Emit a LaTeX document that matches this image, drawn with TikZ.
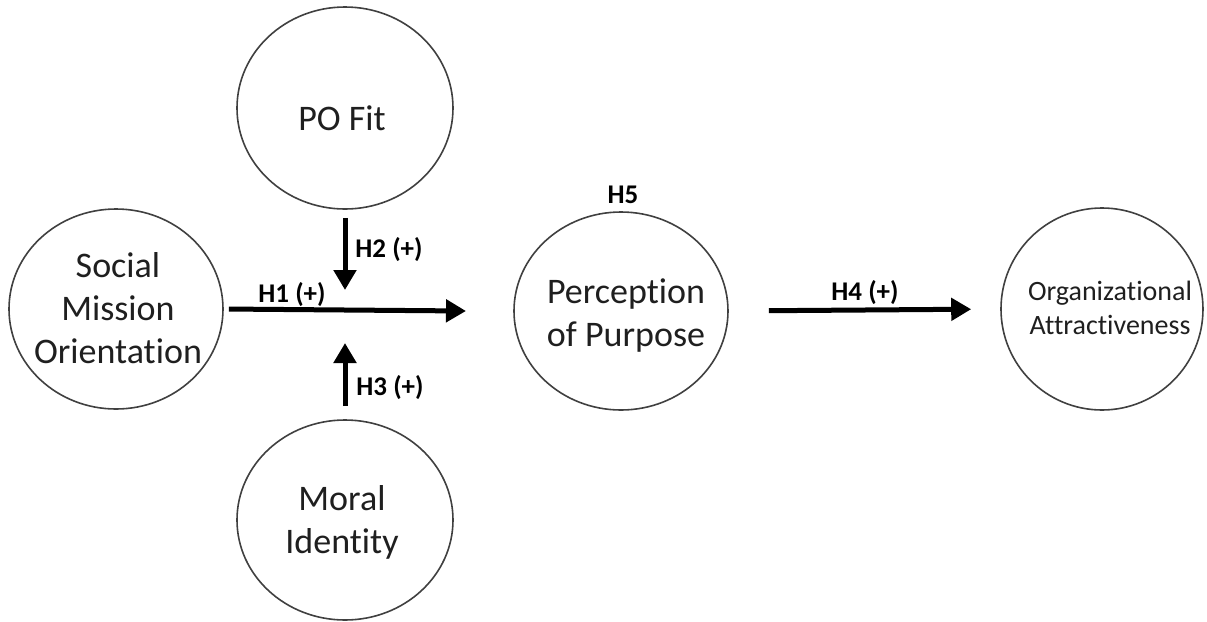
\documentclass[tikz,border=0pt]{standalone}
\usepackage{fontspec}
\setmainfont{Carlito}[Ligatures=NoCommon]
\usetikzlibrary{shapes.geometric,arrows.meta}
\begin{document}
\begin{tikzpicture}[x=0.5pt,y=-0.5pt,
  bubble/.style={draw=black!75, line width=0.8pt, ellipse, inner sep=0pt},
  concept/.style={align=center, inner sep=0pt, text=black!88,
    font=\fontsize{18}{21.5}\selectfont},
  smallconcept/.style={align=center, inner sep=0pt, text=black!88,
    font=\fontsize{14}{17}\selectfont},
  hyp/.style={font=\bfseries\fontsize{13.5}{16}\selectfont, anchor=base, inner sep=0pt},
  link/.style={line width=2.5pt, -{Triangle[length=10pt,width=11pt]}}
]
\useasboundingbox (0,0) rectangle (1207,622);

% constructs
\node[bubble, minimum width=108pt, minimum height=101pt] (pofit) at (345,108) {};
\node[bubble, minimum width=107pt, minimum height=100pt] (smo)   at (116,309) {};
\node[bubble, minimum width=108pt, minimum height=100pt] (moral) at (345,520) {};
\node[bubble, minimum width=107pt, minimum height=99pt]  (pop)   at (621,311) {};
\node[bubble, minimum width=101pt, minimum height=101pt] (oa)    at (1102,309) {};

\node[concept] (pofittext) at (342,118) {PO Fit};
\node[concept] (smotext)   at (118,308) {Social\\Mission\\Orientation};
\node[concept] (moraltext) at (342,522) {Moral\\Identity};
\node[concept] (poptext)   at (626,316) {Perception\\of Purpose};
\node[smallconcept] (oatext) at (1110,308) {Organizational\\Attractiveness};

% free ends of the paths that point at the main effect
\coordinate (h1end) at (466,311);
\coordinate (h2end) at (345,290);
\coordinate (h3end) at (345,343);

% paths
\draw[link, shorten <=2.5pt] (smo.east) -- (h1end);
\draw[link, shorten <=4pt] (pofit.south) -- (h2end);
\draw[link, shorten <=6.5pt] (moral.north) -- (h3end);
\draw[link, shorten <=20pt, shorten >=14.5pt] (pop.east) -- (oa.west);

% hypothesis labels
\node[hyp] (h1) at (292,302) {H1 (+)};
\node[hyp] (h2) at (389,257) {H2 (+)};
\node[hyp] (h3) at (390,395) {H3 (+)};
\node[hyp] (h4) at (865,300) {H4 (+)};
\node[hyp] (h5) at (623,203) {H5};
\end{tikzpicture}
\end{document}
